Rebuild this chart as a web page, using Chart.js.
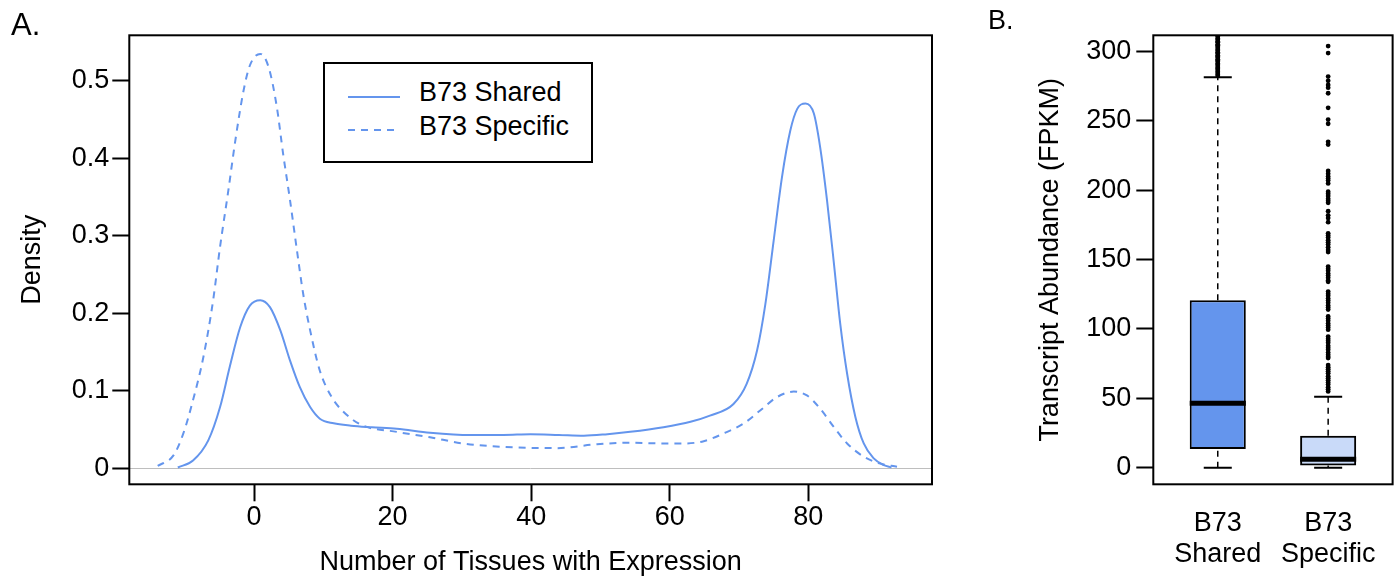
<!doctype html>
<html lang="en">
<head>
  <meta charset="utf-8">
  <title>B73 shared and specific transcripts</title>
  <style>
    * {
      margin: 0;
      padding: 0;
    }
    body {
      width: 1396px;
      height: 576px;
      overflow: hidden;
      position: relative;
      background: white;
      font-family: 'Liberation Sans', Arial, sans-serif;
      color: black;
    }
    .panel {
      position: absolute;
      top: 0;
      height: 576px;
    }
    #panelA { left: 0; width: 960px; }
    #panelB { left: 960px; width: 440px; }
    .tag {
      position: absolute;
      line-height: 1;
    }
    #legendA {
      position: absolute;
      left: 323px;
      top: 62px;
      width: 270px;
      height: 101px;
      border: 2px solid black;
      box-sizing: border-box;
      background: white;
    }
    #legendA span {
      position: absolute;
      font-size: 27px;
      line-height: 26px;
      white-space: nowrap;
    }
    #legendA svg { position: absolute; }
  </style>
</head>
<body>
  <div class="panel" id="panelA"><canvas id="chartA"></canvas></div>
  <div class="panel" id="panelB"><canvas id="chartB"></canvas></div>
  <div class="tag" style="left:11px; top:9px; font-size:31px;">A.</div>
  <div class="tag" style="left:988px; top:7px; font-size:27px;">B.</div>
  <div id="legendA"></div>

  <script src="https://cdn.jsdelivr.net/npm/chart.js"></script>
  <script>
    // panel A: density of number of tissues with expression
    const densityXShared = [-11, -8.8, -6.6, -4.9, -3.5, -2.0, -0.6, 0.9, 2.3, 3.8, 5.2, 6.6, 8.1, 9.5,
      11.5, 14, 17, 20.6, 25.4, 31.2, 36, 39.9, 44, 47.6, 51, 54.3, 59.1, 63, 65.8, 69.2, 71.1, 72.6,
      73.8, 75.0, 76.2, 77.4, 78.4, 79.6, 80.8, 81.7, 82.7, 83.7, 84.6, 85.6, 86.8, 88.0, 89.4, 90.9, 92];
    const densityYShared = [0.001, 0.010, 0.036, 0.079, 0.131, 0.182, 0.210, 0.217, 0.208, 0.178, 0.139, 0.105, 0.079, 0.064,
      0.058, 0.055, 0.053, 0.051, 0.046, 0.043, 0.043, 0.044, 0.043, 0.042, 0.044, 0.047, 0.053, 0.060, 0.068, 0.083, 0.109, 0.152,
      0.212, 0.294, 0.376, 0.436, 0.464, 0.471, 0.458, 0.415, 0.346, 0.264, 0.187, 0.122, 0.066, 0.032, 0.013, 0.004, 0.001];
    const densityXSpecific = [-13.9, -11.6, -10.2, -8.8, -7.3, -5.9, -4.9, -3.7, -2.7, -1.5, -0.6, 0.9, 2.1, 3.3,
      4.2, 5.2, 6.2, 7.1, 8.1, 9.5, 11.2, 12.9, 15.5, 20.6, 25.4, 30.2, 37.4, 43.7, 49.5, 54.3, 59.1, 62,
      64.9, 67.8, 70.7, 73.1, 75.5, 77.9, 79.8, 81.7, 83.7, 85.6, 88.0, 90.4, 92.8];
    const densityYSpecific = [0.003, 0.017, 0.045, 0.088, 0.144, 0.217, 0.286, 0.359, 0.423, 0.488, 0.520, 0.535, 0.518, 0.466,
      0.406, 0.346, 0.281, 0.225, 0.178, 0.126, 0.092, 0.073, 0.056, 0.047, 0.040, 0.032, 0.027, 0.026, 0.031, 0.033, 0.032, 0.032,
      0.035, 0.045, 0.058, 0.075, 0.092, 0.099, 0.094, 0.077, 0.053, 0.032, 0.015, 0.006, 0.002];
    const densityLabels = ['B73 Shared', 'B73 Specific'];
    const densityXTicks = [0, 20, 40, 60, 80];
    const densityYTicks = [0, 0.1, 0.2, 0.3, 0.4, 0.5];

    // panel B: transcript abundance boxplots
    const boxLabels = [['B73', 'Shared'], ['B73', 'Specific']];
    const boxLow = [0, 0];
    const boxQ1 = [13.5, 1.5];
    const boxMedian = [46.5, 6];
    const boxQ3 = [120.7, 23];
    const boxHigh = [281.5, 51.2];
    const outliersShared = [282.5, 283.4, 284.6, 285.5, 286.7, 287.6, 288.4, 289.7, 290.6, 291.5, 292.8, 293.6,
      294.5, 295.7, 296.6, 297.4, 298.7, 299.5, 300.6, 301.4, 302.7, 303.5, 304.6, 305.4, 306.7, 307.5, 308.6, 309.5, 310.7, 311.6];
    const outliersSpecific = [304, 299, 282, 279, 276, 274, 270, 259.5, 251, 248, 235, 233,
      214, 212, 210, 208.5, 207, 205, 199, 197.5, 196, 194, 192.5, 191, 185, 182, 180, 177,
      169, 167.5, 166, 164, 162.5, 161, 159, 157, 155.5,
      145, 143.5, 142, 140, 138.5, 137, 135, 134,
      127, 125.5, 124, 122, 120.5, 119, 117, 115.5, 114,
      109, 107.5, 106, 104, 102.5, 101, 99.5,
      94.5, 93, 91.5, 90, 88, 86.5, 85, 83, 81.5, 80, 79,
      74, 72.5, 71, 69.5, 68, 66, 64.5, 63, 61.5, 60, 58, 56.5, 55];
    const boxYTicks = [0, 50, 100, 150, 200, 250, 300];

    const blue = '#6495ED';
    const lightBlue = 'rgba(100, 149, 237, 0.35)';

    Chart.defaults.font.family = "'Liberation Sans', Arial, sans-serif";
    Chart.defaults.font.size = 27;
    Chart.defaults.color = 'black';

    // box round the plotting region, like R's bty="o"
    const frame = {
      id: 'frame',
      afterDatasetsDraw(chart) {
        const {ctx, chartArea: a} = chart;
        ctx.save();
        ctx.strokeStyle = 'black';
        ctx.lineWidth = 2;
        ctx.strokeRect(a.left, a.top, a.right - a.left, a.bottom - a.top);
        ctx.restore();
      }
    };

    const toPoints = (xs, ys) => xs.map((x, i) => ({x: x, y: ys[i]}));
    const fixTicks = (list) => (scale) => { scale.ticks = list.map(v => ({value: v})); };

    // ---------- panel A ----------
    const chartA = new Chart(document.getElementById('chartA'), {
      type: 'line',
      data: {
        datasets: [
          {
            label: densityLabels[0],
            data: toPoints(densityXShared, densityYShared),
            borderColor: blue,
            borderWidth: 2,
            pointRadius: 0,
            cubicInterpolationMode: 'monotone',
            fill: false
          },
          {
            label: densityLabels[1],
            data: toPoints(densityXSpecific, densityYSpecific),
            borderColor: blue,
            borderWidth: 2,
            borderDash: [7, 6],
            pointRadius: 0,
            cubicInterpolationMode: 'monotone',
            fill: false
          }
        ]
      },
      options: {
        responsive: true,
        maintainAspectRatio: false,
        animation: false,
        layout: { padding: { top: 35.3, right: 28, left: 0, bottom: 0 } },
        plugins: { legend: { display: false }, tooltip: { enabled: false } },
        scales: {
          x: {
            type: 'linear',
            min: -18,
            max: 97.85,
            afterBuildTicks: fixTicks(densityXTicks),
            afterFit: (s) => { s.height = 91.7; },
            border: { display: false },
            grid: { drawOnChartArea: false, tickLength: 17, tickWidth: 2, tickColor: 'black' },
            ticks: { padding: 0, maxRotation: 0, autoSkip: false },
            title: {
              display: true,
              text: 'Number of Tissues with Expression',
              font: { size: 27, lineHeight: 1 },
              padding: { top: 0, bottom: 0 }
            }
          },
          y: {
            min: -0.0207,
            max: 0.559,
            afterBuildTicks: fixTicks(densityYTicks),
            afterFit: (s) => { s.width = 129.3; },
            border: { display: false },
            grid: {
              drawOnChartArea: true,
              color: (c) => (c.tick && c.tick.value === 0) ? '#BEBEBE' : 'rgba(0,0,0,0)',
              lineWidth: 1,
              tickLength: 17,
              tickWidth: 2,
              tickColor: 'black'
            },
            ticks: {
              padding: 3,
              autoSkip: false,
              callback: (v) => v === 0 ? '0' : v.toFixed(1)
            },
            title: {
              display: true,
              text: 'Density',
              font: { size: 27, lineHeight: 1 },
              padding: { top: 19.5, bottom: 0 }
            }
          }
        }
      },
      plugins: [frame]
    });

    // legend for panel A, built from the datasets
    const legendBox = document.getElementById('legendA');
    const sampleTops = [30.7, 64];
    const textTops = [15.3, 48.9];
    chartA.data.datasets.forEach((ds, i) => {
      const dash = (ds.borderDash || []).join(' ');
      legendBox.insertAdjacentHTML('beforeend',
        '<svg width="52" height="4" style="left:22.7px; top:' + sampleTops[i] + 'px">' +
        '<line x1="0" y1="2" x2="52" y2="2" stroke="' + ds.borderColor + '" stroke-width="2"' +
        (dash ? ' stroke-dasharray="' + dash + '"' : '') + '/></svg>' +
        '<span style="left:94px; top:' + textTops[i] + 'px">' + ds.label + '</span>');
    });

    // ---------- panel B ----------
    const boxHalf = 0.254;
    const capHalf = 0.127;
    const segment = (x1, y1, x2, y2, width, dash) => ({
      type: 'line',
      data: [{x: x1, y: y1}, {x: x2, y: y2}],
      borderColor: 'black',
      borderWidth: width,
      borderDash: dash || [],
      borderCapStyle: 'butt',
      pointRadius: 0,
      fill: false,
      order: 1
    });

    const boxParts = [];
    boxQ1.forEach((q1, i) => {
      const c = i + 1;
      boxParts.push(segment(c, boxLow[i], c, q1, 1.5, [6, 5]));
      boxParts.push(segment(c, boxQ3[i], c, boxHigh[i], 1.5, [6, 5]));
      boxParts.push(segment(c - capHalf, boxLow[i], c + capHalf, boxLow[i], 2));
      boxParts.push(segment(c - capHalf, boxHigh[i], c + capHalf, boxHigh[i], 2));
      boxParts.push(segment(c - boxHalf, boxMedian[i], c + boxHalf, boxMedian[i], 5));
    });

    const outlierSet = (values, c) => ({
      type: 'scatter',
      data: values.map(v => ({x: c, y: v})),
      pointRadius: 2.4,
      pointBackgroundColor: 'black',
      pointBorderWidth: 0,
      showLine: false,
      order: 0
    });

    new Chart(document.getElementById('chartB'), {
      type: 'bar',
      data: {
        datasets: [
          {
            type: 'bar',
            data: boxQ1.map((q1, i) => ({x: i + 1, y: [q1, boxQ3[i]]})),
            backgroundColor: [blue, lightBlue],
            borderColor: 'black',
            borderWidth: 2,
            borderSkipped: false,
            categoryPercentage: 1,
            barPercentage: 2 * boxHalf,
            order: 2
          },
          ...boxParts,
          outlierSet(outliersShared, 1),
          outlierSet(outliersSpecific, 2)
        ]
      },
      options: {
        responsive: true,
        maintainAspectRatio: false,
        animation: false,
        layout: { padding: { top: 35.3, right: 0, left: 0, bottom: 0 } },
        plugins: { legend: { display: false }, tooltip: { enabled: false } },
        scales: {
          x: {
            type: 'linear',
            min: 0.416,
            max: 2.584,
            offset: false,
            afterBuildTicks: fixTicks(boxLabels.map((_, i) => i + 1)),
            afterFit: (s) => { s.height = 91.7; },
            border: { display: false },
            grid: { drawOnChartArea: false, drawTicks: false, offset: false },
            ticks: {
              padding: 23.5,
              maxRotation: 0,
              autoSkip: false,
              font: { size: 27, lineHeight: 1.15 },
              callback: (v) => boxLabels[Math.round(v) - 1]
            }
          },
          y: {
            min: -12,
            max: 311.8,
            afterBuildTicks: fixTicks(boxYTicks),
            afterFit: (s) => { s.width = 193.3; },
            border: { display: false },
            grid: { drawOnChartArea: false, tickLength: 17, tickWidth: 2, tickColor: 'black' },
            ticks: { padding: 5, autoSkip: false },
            title: {
              display: true,
              text: 'Transcript Abundance (FPKM)',
              font: { size: 27, lineHeight: 1 },
              padding: { top: 77.5, bottom: 0 }
            }
          }
        }
      },
      plugins: [frame]
    });
  </script>
</body>
</html>
